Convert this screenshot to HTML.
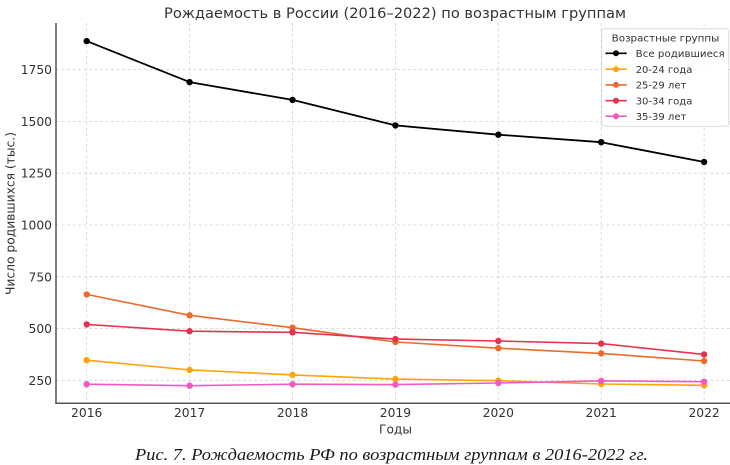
<!DOCTYPE html>
<html><head><meta charset="utf-8"><style>
html,body{margin:0;padding:0;background:#fff;}
svg{display:block;}
text{font-family:"DejaVu Sans","Liberation Sans",sans-serif;fill:#333;}
</style></head><body>
<svg width="730" height="465" viewBox="0 0 730 465" xmlns="http://www.w3.org/2000/svg">
<rect width="730" height="465" fill="#fff"/>
<!-- grid -->
<g stroke="#d4d4d4" stroke-width="0.8" stroke-dasharray="3,2.5" fill="none">
<line x1="56" x2="730" y1="69.7" y2="69.7"/>
<line x1="56" x2="730" y1="121.5" y2="121.5"/>
<line x1="56" x2="730" y1="173.2" y2="173.2"/>
<line x1="56" x2="730" y1="225.0" y2="225.0"/>
<line x1="56" x2="730" y1="276.8" y2="276.8"/>
<line x1="56" x2="730" y1="328.5" y2="328.5"/>
<line x1="56" x2="730" y1="380.3" y2="380.3"/>
<line y1="23" y2="403" x1="86.7" x2="86.7"/>
<line y1="23" y2="403" x1="189.6" x2="189.6"/>
<line y1="23" y2="403" x1="292.5" x2="292.5"/>
<line y1="23" y2="403" x1="395.4" x2="395.4"/>
<line y1="23" y2="403" x1="498.3" x2="498.3"/>
<line y1="23" y2="403" x1="601.2" x2="601.2"/>
<line y1="23" y2="403" x1="704.1" x2="704.1"/>
</g>
<!-- spines -->
<line x1="56" y1="23" x2="56" y2="403.5" stroke="#555" stroke-width="1.5"/>
<line x1="55.3" y1="403.3" x2="730" y2="403.3" stroke="#555" stroke-width="1.5"/>
<!-- series -->
<g fill="none" stroke-width="1.6" stroke-linejoin="round">
<polyline stroke="#000" stroke-width="1.8" points="86.7,41.1 189.6,82.1 292.5,99.9 395.4,125.4 498.3,134.7 601.2,142.2 704.1,162.0"/>
<polyline stroke="#FFA50A" points="86.7,360.2 189.6,369.9 292.5,374.9 395.4,379.1 498.3,380.7 601.2,384.0 704.1,385.3"/>
<polyline stroke="#EE6A2C" points="86.7,294.4 189.6,315.3 292.5,327.7 395.4,342.0 498.3,348.2 601.2,353.4 704.1,361.0"/>
<polyline stroke="#E6324E" points="86.7,324.4 189.6,331.2 292.5,332.3 395.4,339.1 498.3,341.0 601.2,343.6 704.1,354.4"/>
<polyline stroke="#F25AC0" points="86.7,384.2 189.6,385.7 292.5,384.2 395.4,384.6 498.3,383.0 601.2,380.9 704.1,381.7"/>
</g>
<g fill="#000">
<circle cx="86.7" cy="41.1" r="3.2"/><circle cx="189.6" cy="82.1" r="3.2"/><circle cx="292.5" cy="99.9" r="3.2"/><circle cx="395.4" cy="125.4" r="3.2"/><circle cx="498.3" cy="134.7" r="3.2"/><circle cx="601.2" cy="142.2" r="3.2"/><circle cx="704.1" cy="162.0" r="3.2"/>
</g>
<g fill="#FFA50A">
<circle cx="86.7" cy="360.2" r="3.2"/><circle cx="189.6" cy="369.9" r="3.2"/><circle cx="292.5" cy="374.9" r="3.2"/><circle cx="395.4" cy="379.1" r="3.2"/><circle cx="498.3" cy="380.7" r="3.2"/><circle cx="601.2" cy="384.0" r="3.2"/><circle cx="704.1" cy="385.3" r="3.2"/>
</g>
<g fill="#EE6A2C">
<circle cx="86.7" cy="294.4" r="3.2"/><circle cx="189.6" cy="315.3" r="3.2"/><circle cx="292.5" cy="327.7" r="3.2"/><circle cx="395.4" cy="342.0" r="3.2"/><circle cx="498.3" cy="348.2" r="3.2"/><circle cx="601.2" cy="353.4" r="3.2"/><circle cx="704.1" cy="361.0" r="3.2"/>
</g>
<g fill="#E6324E">
<circle cx="86.7" cy="324.4" r="3.2"/><circle cx="189.6" cy="331.2" r="3.2"/><circle cx="292.5" cy="332.3" r="3.2"/><circle cx="395.4" cy="339.1" r="3.2"/><circle cx="498.3" cy="341.0" r="3.2"/><circle cx="601.2" cy="343.6" r="3.2"/><circle cx="704.1" cy="354.4" r="3.2"/>
</g>
<g fill="#F25AC0">
<circle cx="86.7" cy="384.2" r="3.2"/><circle cx="189.6" cy="385.7" r="3.2"/><circle cx="292.5" cy="384.2" r="3.2"/><circle cx="395.4" cy="384.6" r="3.2"/><circle cx="498.3" cy="383.0" r="3.2"/><circle cx="601.2" cy="380.9" r="3.2"/><circle cx="704.1" cy="381.7" r="3.2"/>
</g>
<!-- y tick labels -->
<g font-size="12.3" text-anchor="end">
<text x="52" y="74.2">1750</text>
<text x="52" y="126.0">1500</text>
<text x="52" y="177.7">1250</text>
<text x="52" y="229.5">1000</text>
<text x="52" y="281.3">750</text>
<text x="52" y="333.0">500</text>
<text x="52" y="384.8">250</text>
</g>
<!-- x tick labels -->
<g font-size="12.3" text-anchor="middle">
<text x="86.7" y="416.8">2016</text>
<text x="189.6" y="416.8">2017</text>
<text x="292.5" y="416.8">2018</text>
<text x="395.4" y="416.8">2019</text>
<text x="498.3" y="416.8">2020</text>
<text x="601.2" y="416.8">2021</text>
<text x="704.1" y="416.8">2022</text>
</g>
<!-- axis labels -->
<text x="395.5" y="433.5" font-size="12.3" text-anchor="middle" textLength="33" lengthAdjust="spacingAndGlyphs">Годы</text>
<text transform="translate(14.5,213.5) rotate(-90)" font-size="12.3" text-anchor="middle" textLength="163" lengthAdjust="spacingAndGlyphs">Число родившихся (тыс.)</text>
<!-- title -->
<text x="395" y="18" font-size="14.6" text-anchor="middle" textLength="462" lengthAdjust="spacingAndGlyphs">Рождаемость в России (2016–2022) по возрастным группам</text>
<!-- legend -->
<rect x="601.7" y="28.7" width="127" height="97.5" rx="2.5" fill="#fff" fill-opacity="0.85" stroke="#dcdcdc" stroke-width="1"/>
<text x="665.5" y="41.5" font-size="10" text-anchor="middle" textLength="107.6" lengthAdjust="spacingAndGlyphs">Возрастные группы</text>
<g stroke-width="1.6">
<line x1="605.5" x2="626.7" y1="53.3" y2="53.3" stroke="#000"/>
<line x1="605.5" x2="626.7" y1="69.2" y2="69.2" stroke="#FFA50A"/>
<line x1="605.5" x2="626.7" y1="84.9" y2="84.9" stroke="#EE6A2C"/>
<line x1="605.5" x2="626.7" y1="100.7" y2="100.7" stroke="#E6324E"/>
<line x1="605.5" x2="626.7" y1="116.2" y2="116.2" stroke="#F25AC0"/>
</g>
<circle cx="616" cy="53.3" r="3" fill="#000"/>
<circle cx="616" cy="69.2" r="3" fill="#FFA50A"/>
<circle cx="616" cy="84.9" r="3" fill="#EE6A2C"/>
<circle cx="616" cy="100.7" r="3" fill="#E6324E"/>
<circle cx="616" cy="116.2" r="3" fill="#F25AC0"/>
<g font-size="10">
<text x="635.7" y="56.9" textLength="89" lengthAdjust="spacingAndGlyphs">Все родившиеся</text>
<text x="635.7" y="72.8">20-24 года</text>
<text x="635.7" y="88.5">25-29 лет</text>
<text x="635.7" y="104.3">30-34 года</text>
<text x="635.7" y="119.8">35-39 лет</text>
</g>
<!-- caption -->
<text x="391.5" y="460" font-family="'Liberation Serif',serif" font-style="italic" font-size="17" fill="#1a1a1a" style="fill:#1a1a1a;font-family:'Liberation Serif',serif" text-anchor="middle" textLength="513" lengthAdjust="spacingAndGlyphs">Рис. 7. Рождаемость РФ по возрастным группам в 2016-2022 гг.</text>
</svg>
</body></html>
